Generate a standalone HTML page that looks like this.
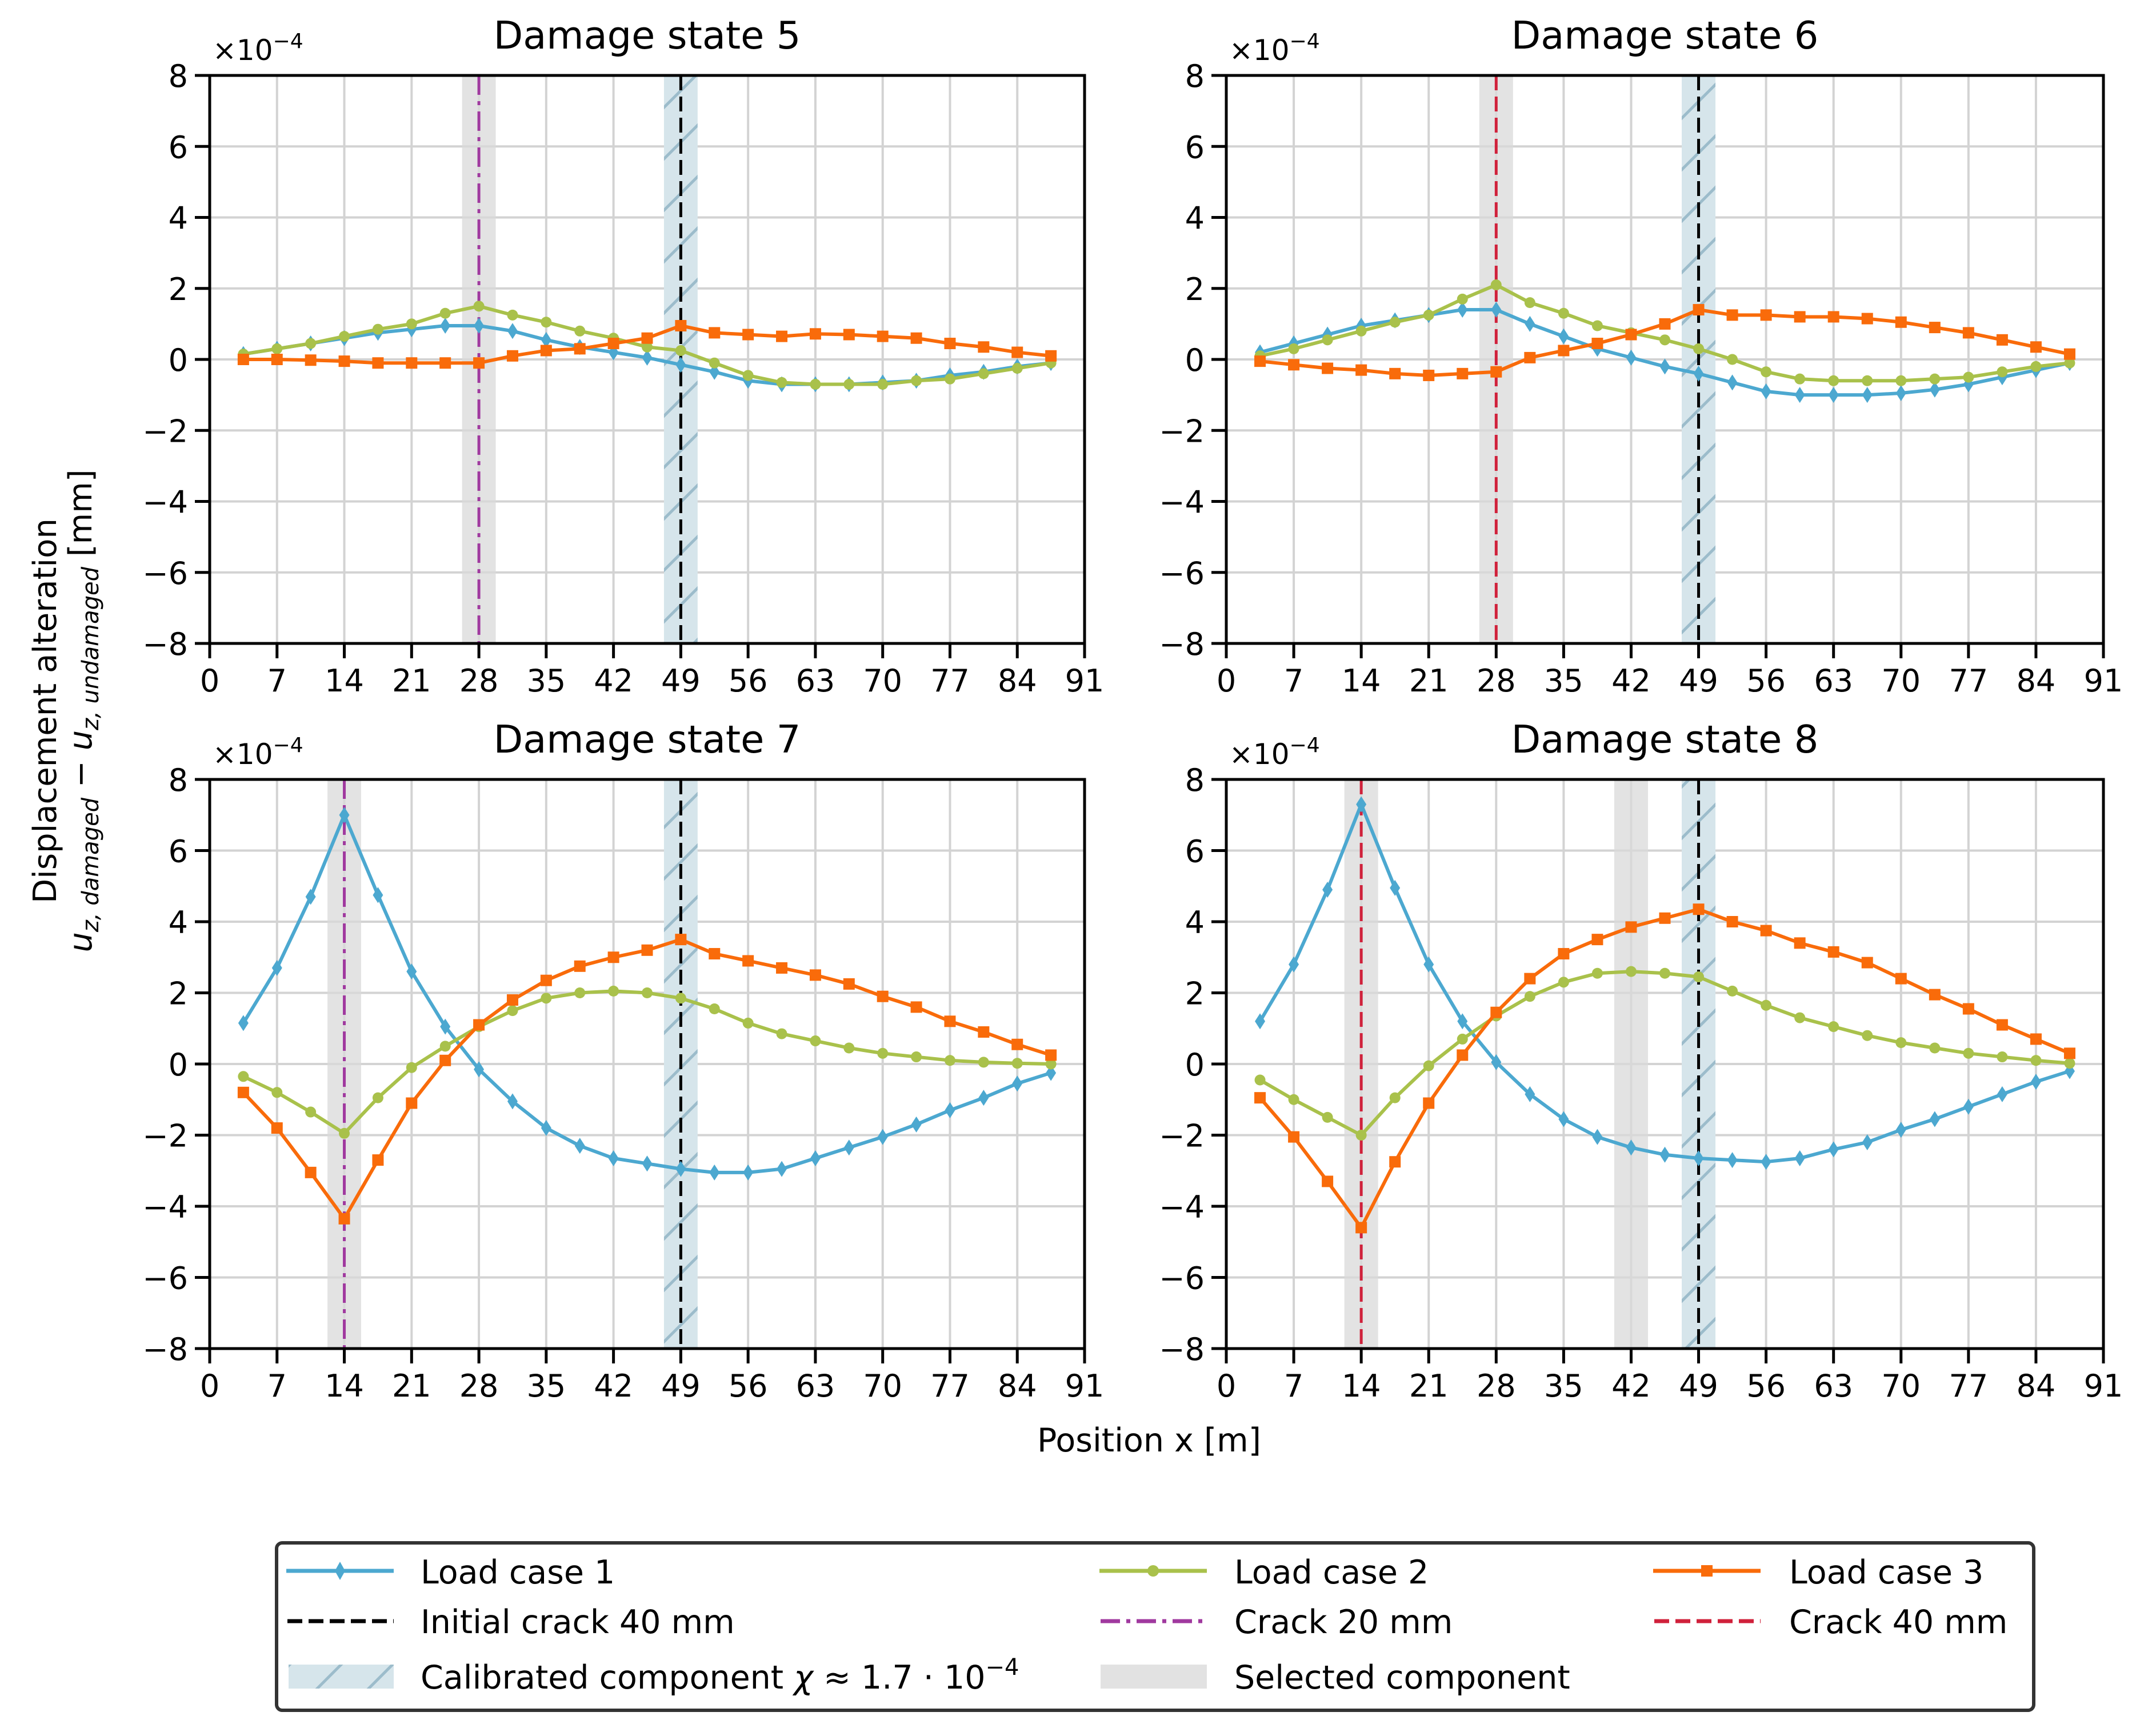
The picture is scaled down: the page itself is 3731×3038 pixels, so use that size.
<!DOCTYPE html>
<html><head><meta charset="utf-8"><style>
html,body{margin:0;padding:0;background:#fff}
svg{display:block;font-family:"DejaVu Sans","Liberation Sans",sans-serif}
</style></head><body>
<svg id="fig" width="3731" height="3038" viewBox="0 0 3731 3038" xmlns="http://www.w3.org/2000/svg">
<defs>
<pattern id="hatch" patternUnits="userSpaceOnUse" width="90" height="90">
<rect width="90" height="90" fill="#d6e5eb"/>
<line x1="0" y1="90" x2="90" y2="0" stroke="#9cbccb" stroke-width="5"/>
<line x1="-10" y1="10" x2="10" y2="-10" stroke="#9cbccb" stroke-width="5"/>
<line x1="80" y1="100" x2="100" y2="80" stroke="#9cbccb" stroke-width="5"/>
</pattern>
</defs>
<g id="plots"></g>
<text x="98" y="1244" font-size="56" text-anchor="middle" transform="rotate(-90 98 1244)">Displacement alteration</text>
<text x="160" y="1244" font-size="56" text-anchor="middle" transform="rotate(-90 160 1244)"><tspan font-style="italic">u</tspan><tspan font-size="40" dy="12" font-style="italic">z, damaged</tspan><tspan dy="-12"> − </tspan><tspan font-style="italic">u</tspan><tspan font-size="40" dy="12" font-style="italic">z, undamaged</tspan><tspan dy="-12"> [mm]</tspan></text>
<text x="2011" y="2540" font-size="57" text-anchor="middle">Position x [m]</text>
<g>
<rect x="484" y="2700" width="3075" height="293" rx="10" fill="#fff" stroke="#333" stroke-width="6"/>
<g><line x1="501" y1="2749" x2="689" y2="2749" stroke="#4ca8d0" stroke-width="7"/><path d="M595 2733 L604 2749 L595 2765 L586 2749Z" fill="#4ca8d0"/><text x="736" y="2771" font-size="57">Load case 1</text></g>
<g><line x1="1924" y1="2749" x2="2112" y2="2749" stroke="#a9c14b" stroke-width="7"/><circle cx="2018" cy="2749" r="10" fill="#a9c14b"/><text x="2160" y="2771" font-size="57">Load case 2</text></g>
<g><line x1="2893" y1="2749" x2="3081" y2="2749" stroke="#f96b0a" stroke-width="7"/><rect x="2977" y="2739" width="20" height="20" fill="#f96b0a"/><text x="3131" y="2771" font-size="57">Load case 3</text></g>
<g><line x1="503" y1="2837" x2="689" y2="2837" stroke="#000" stroke-width="7" stroke-dasharray="26,11"/><text x="736" y="2858" font-size="57">Initial crack 40 mm</text></g>
<g><line x1="1926" y1="2837" x2="2112" y2="2837" stroke="#a0399f" stroke-width="7" stroke-dasharray="34,11,7,11"/><text x="2160" y="2858" font-size="57">Crack 20 mm</text></g>
<g><line x1="2895" y1="2837" x2="3081" y2="2837" stroke="#d0213b" stroke-width="7" stroke-dasharray="26,11"/><text x="3131" y="2858" font-size="57">Crack 40 mm</text></g>
<g><rect x="505" y="2913" width="184" height="42" fill="url(#hatch)"/><text x="736" y="2955" font-size="57">Calibrated component <tspan font-style="italic">χ</tspan> ≈ 1.7 · 10<tspan font-size="40" dy="-24">−4</tspan></text></g>
<g><rect x="1926" y="2913" width="186" height="42" fill="#e2e2e2"/><text x="2160" y="2955" font-size="57">Selected component</text></g>
</g>
</svg>
<script>
const xPositions = [3.5,7,10.5,14,17.5,21,24.5,28,31.5,35,38.5,42,45.5,49,52.5,56,59.5,63,66.5,70,73.5,77,80.5,84,87.5];
const xTicks = [0,7,14,21,28,35,42,49,56,63,70,77,84,91];
const yTicks = [-8,-6,-4,-2,0,2,4,6,8];
const titles = ["Damage state 5","Damage state 6","Damage state 7","Damage state 8"];
const s5lc1 = [0.15,0.3,0.45,0.6,0.75,0.85,0.95,0.95,0.8,0.55,0.35,0.2,0.05,-0.15,-0.35,-0.6,-0.7,-0.7,-0.7,-0.65,-0.6,-0.45,-0.35,-0.2,-0.1];
const s5lc2 = [0.15,0.3,0.45,0.65,0.85,1.0,1.3,1.5,1.25,1.05,0.8,0.6,0.35,0.25,-0.1,-0.45,-0.65,-0.7,-0.7,-0.7,-0.6,-0.55,-0.4,-0.25,-0.1];
const s5lc3 = [0,0,-0.02,-0.05,-0.1,-0.1,-0.1,-0.1,0.1,0.25,0.3,0.45,0.6,0.95,0.75,0.7,0.65,0.72,0.7,0.65,0.6,0.45,0.35,0.2,0.1];
const s6lc1 = [0.2,0.45,0.7,0.95,1.1,1.25,1.4,1.4,1.0,0.65,0.3,0.05,-0.2,-0.4,-0.65,-0.9,-1.0,-1.0,-1.0,-0.95,-0.85,-0.7,-0.5,-0.3,-0.1];
const s6lc2 = [0.1,0.3,0.55,0.8,1.05,1.25,1.7,2.1,1.6,1.3,0.95,0.75,0.55,0.3,0,-0.35,-0.55,-0.6,-0.6,-0.6,-0.55,-0.5,-0.35,-0.2,-0.1];
const s6lc3 = [-0.05,-0.15,-0.25,-0.3,-0.4,-0.45,-0.4,-0.35,0.05,0.25,0.45,0.7,1.0,1.4,1.25,1.25,1.2,1.2,1.15,1.05,0.9,0.75,0.55,0.35,0.15];
const s7lc1 = [1.15,2.7,4.7,7.0,4.75,2.6,1.05,-0.15,-1.05,-1.8,-2.3,-2.65,-2.8,-2.95,-3.05,-3.05,-2.95,-2.65,-2.35,-2.05,-1.7,-1.3,-0.95,-0.55,-0.25];
const s7lc2 = [-0.35,-0.8,-1.35,-1.95,-0.95,-0.1,0.5,1.05,1.5,1.85,2.0,2.05,2.0,1.85,1.55,1.15,0.85,0.65,0.45,0.3,0.2,0.1,0.05,0.02,0];
const s7lc3 = [-0.8,-1.8,-3.05,-4.35,-2.7,-1.1,0.1,1.1,1.8,2.35,2.75,3.0,3.2,3.5,3.1,2.9,2.7,2.5,2.25,1.9,1.6,1.2,0.9,0.55,0.25];
const s8lc1 = [1.2,2.8,4.9,7.3,4.95,2.8,1.2,0.05,-0.85,-1.55,-2.05,-2.35,-2.55,-2.65,-2.7,-2.75,-2.65,-2.4,-2.2,-1.85,-1.55,-1.2,-0.85,-0.5,-0.2];
const s8lc2 = [-0.45,-1.0,-1.5,-2.0,-0.95,-0.05,0.7,1.35,1.9,2.3,2.55,2.6,2.55,2.45,2.05,1.65,1.3,1.05,0.8,0.6,0.45,0.3,0.2,0.1,0.02];
const s8lc3 = [-0.95,-2.05,-3.3,-4.6,-2.75,-1.1,0.25,1.45,2.4,3.1,3.5,3.85,4.1,4.35,4.0,3.75,3.4,3.15,2.85,2.4,1.95,1.55,1.1,0.7,0.3];
const selectedPos = [[28],[28],[14],[14,42]];
const crackPos = [28,28,14,14];
const crackType = ["20","40","20","40"];
const initialCrack = 49;
const bandHalf = 1.75;

const NS="http://www.w3.org/2000/svg";
const root=document.getElementById('plots');
function mk(tag,attrs,parent){const e=document.createElementNS(NS,tag);for(const k in attrs)e.setAttribute(k,attrs[k]);(parent||root).appendChild(e);return e;}
const boxes=[[367,1898,132,1126],[2146,3681,132,1126],[367,1898,1364,2360],[2146,3681,1364,2360]];
const series=[[s5lc1,s5lc2,s5lc3],[s6lc1,s6lc2,s6lc3],[s7lc1,s7lc2,s7lc3],[s8lc1,s8lc2,s8lc3]];
const colors=["#4ca8d0","#a9c14b","#f96b0a"];
boxes.forEach((b,i)=>{
  const [L,R,T,B]=b;
  const X=v=>L+(v-0)/(91-0)*(R-L);
  const Y=v=>B-(v+8)/16*(B-T);
  const g=mk('g',{});
  
  
  const grid=mk('g',{},g);
  
  
  xTicks.forEach(t=>mk('line',{x1:X(t),x2:X(t),y1:T,y2:B,stroke:'#d3d3d3','stroke-width':4},grid));
  yTicks.forEach(t=>mk('line',{x1:L,x2:R,y1:Y(t),y2:Y(t),stroke:'#d3d3d3','stroke-width':4},grid));
  selectedPos[i].forEach(p=>{
    const r=mk('rect',{x:X(p-bandHalf),y:T,width:X(p+bandHalf)-X(p-bandHalf),height:B-T,fill:'#d9d9d9','fill-opacity':0.75},g);
    
    
  });
  const cb=mk('rect',{x:X(initialCrack-bandHalf),y:T,width:X(initialCrack+bandHalf)-X(initialCrack-bandHalf),height:B-T,fill:'url(#hatch)'},g);
  
  
  const cl=mk('line',{x1:X(crackPos[i]),x2:X(crackPos[i]),y1:T,y2:B,stroke:crackType[i]==="20"?'#a0399f':'#d0213b','stroke-width':5,'stroke-dasharray':crackType[i]==="20"?'34,11,7,11':'26,11'},g);
  
  
  const il=mk('line',{x1:X(initialCrack),x2:X(initialCrack),y1:T,y2:B,stroke:'#000','stroke-width':5,'stroke-dasharray':'26,11'},g);
  
  
  series[i].forEach((d,k)=>{
    const sg=mk('g',{},g);
    
    
    mk('polyline',{points:d.map((v,j)=>X(xPositions[j])+','+Y(v)).join(' '),fill:'none',stroke:colors[k],'stroke-width':6,'stroke-linejoin':'round'},sg);
    d.forEach((v,j)=>{
      const cx=X(xPositions[j]),cy=Y(v);let m;
      if(k===0)m=mk('path',{d:`M${cx} ${cy-14}L${cx+9} ${cy}L${cx} ${cy+14}L${cx-9} ${cy}Z`,fill:colors[k]},sg);
      else if(k===1)m=mk('circle',{cx:cx,cy:cy,r:9.5,fill:colors[k]},sg);
      else m=mk('rect',{x:cx-10,y:cy-10,width:20,height:20,fill:colors[k]},sg);
      
      
    });
  });
  const fr=mk('rect',{x:L,y:T,width:R-L,height:B-T,fill:'none',stroke:'#000','stroke-width':5},g);
  
  
  xTicks.forEach(t=>{
    mk('line',{x1:X(t),x2:X(t),y1:B,y2:B+26,stroke:'#000','stroke-width':5},g);
    const tx=mk('text',{x:X(t),y:B+84,'font-size':54,'text-anchor':'middle'},g);
    
    
    tx.textContent=t;
  });
  yTicks.forEach(t=>{
    mk('line',{x1:L-26,x2:L,y1:Y(t),y2:Y(t),stroke:'#000','stroke-width':5},g);
    const tx=mk('text',{x:L-38,y:Y(t)+20,'font-size':54,'text-anchor':'end'},g);
    
    
    tx.textContent=t<0?'−'+(-t):t;
  });
  const off=mk('text',{x:L+5,y:T-27,'font-size':50},g);
  
  
  off.innerHTML='×10<tspan font-size="36" dy="-21">−4</tspan>';
  const ti=mk('text',{x:(L+R)/2,y:T-47,'font-size':67,'text-anchor':'middle'},g);
  
  
  ti.textContent=titles[i];
});
</script>
</body></html>
